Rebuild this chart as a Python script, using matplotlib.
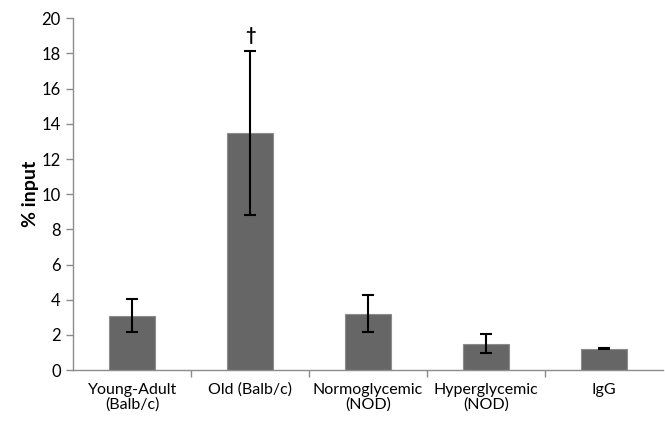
import matplotlib.pyplot as plt
import numpy as np

plt.rcParams['font.family'] = ['Lato', 'DejaVu Sans']

categories = ['Young-Adult\n(Balb/c)', 'Old (Balb/c)', 'Normoglycemic\n(NOD)',
              'Hyperglycemic\n(NOD)', 'IgG']
values = [3.1, 13.5, 3.2, 1.5, 1.23]
errors = [0.92, 4.66, 1.05, 0.55, 0.03]
marks = ['', '\u2020', '', '', '']

fig = plt.figure(figsize=(6.65, 4.24), dpi=100)
ax = fig.add_axes([0.11, 0.127, 0.887, 0.83])

x = np.arange(len(categories))
ax.bar(x, values, width=0.39, color='#666666', edgecolor='#8c8c8c', linewidth=0.8,
       yerr=errors, error_kw=dict(ecolor='black', elinewidth=1.5, capsize=4, capthick=1.5))

# dagger above the old group
for xi, v, e, m in zip(x, values, errors, marks):
    if m:
        ax.text(xi, v + e + 0.4, m, ha='center', va='bottom', fontsize=13, fontweight='bold')

ax.set_xlim(-0.5, len(categories) - 0.5)
ax.set_ylim(0, 20)
ax.set_yticks(np.arange(0, 21, 2))
ax.set_xticks(x)
ax.set_xticklabels(categories, fontsize=11.5, linespacing=1.1)
ax.set_xticks(np.arange(0.5, len(categories) - 0.5, 1), minor=True)
ax.tick_params(axis='x', which='major', length=0, pad=9)
ax.tick_params(axis='x', which='minor', length=5, color='#8c8c8c', width=1)
ax.tick_params(axis='y', length=5, color='#8c8c8c', width=1, labelsize=12, pad=4)
ax.set_ylabel('% input', fontsize=14, fontweight='bold', labelpad=2)

for s in ['top', 'right']:
    ax.spines[s].set_visible(False)
for s in ['left', 'bottom']:
    ax.spines[s].set_color('#8c8c8c')
    ax.spines[s].set_linewidth(1)

fig.savefig('out.png', dpi=100)
